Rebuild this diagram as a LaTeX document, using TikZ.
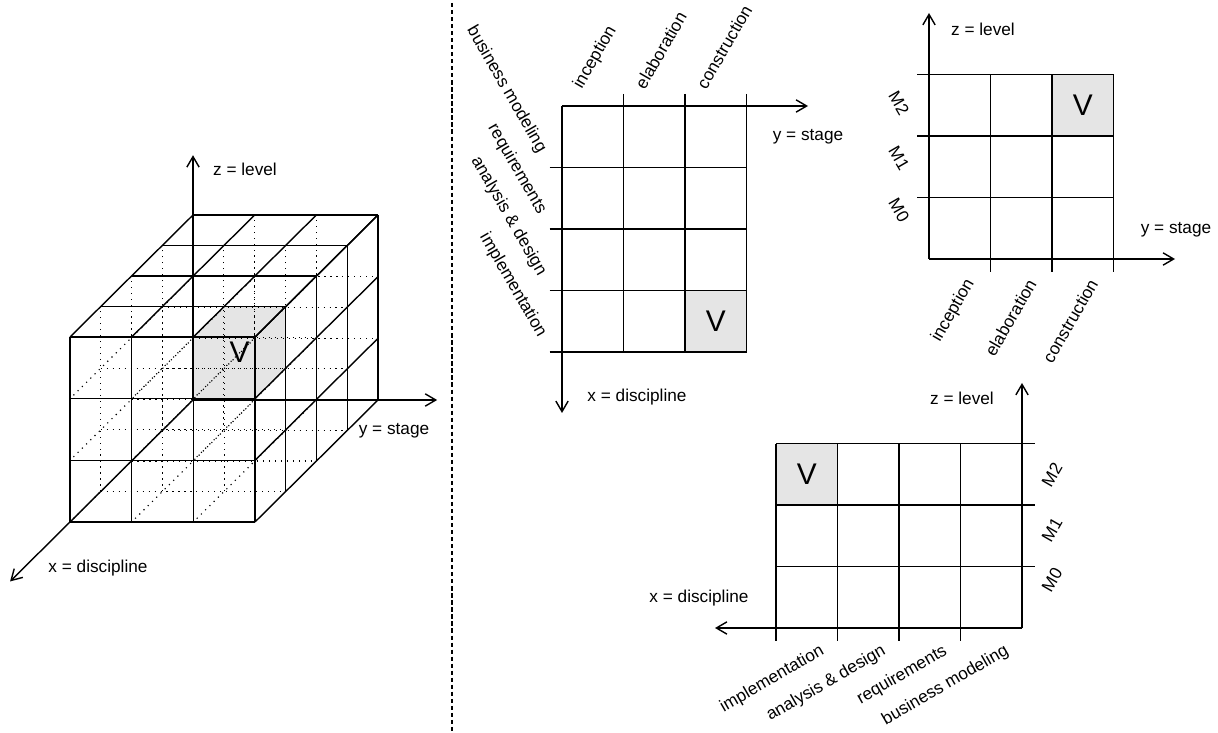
\documentclass[tikz,border=0pt]{standalone}
\usepackage{fontspec}
\setmainfont{Liberation Sans}
\usetikzlibrary{arrows.meta}

\begin{document}
\begin{tikzpicture}[x=0.02cm,y=-0.02cm,>={Straight Barb[length=6pt,width=7pt]},
  every node/.style={font=\fontsize{9.8}{11}\selectfont,inner sep=1pt},
  grid/.style={line width=0.8pt},
  hidden/.style={line width=0.65pt,dash pattern=on 0.65pt off 2.75pt},
  axis/.style={->,line width=0.8pt},
  cell/.style={fill=gray!20},
  vlabel/.style={font=\fontsize{17}{19}\selectfont}]
\useasboundingbox (0,0) rectangle (1218,733);
\draw[line width=0.6pt,dash pattern=on 2.4pt off 1.6pt] (452,3) -- (452,731);

% cube, origin at the back lower left corner
\begin{scope}[shift={(193,400)}]
\begin{scope}[x={(-0.615cm,-0.61cm)},y={(1.2334cm,0cm)},z={(0cm,1.2334cm)}]
\fill[cell] (4,2,2) -- (4,3,2) -- (3,3,2) -- (3,3,3) -- (3,2,3) -- (4,2,3) -- cycle;
% hidden lattice
\foreach \a in {0,1,2} \foreach \b in {0,1,2} \draw[hidden] (0,\a,\b) -- (4,\a,\b);
\foreach \a in {0,...,3} \foreach \b in {0,1,2} {\draw[hidden] (\a,0,\b) -- (\a,3,\b); \draw[hidden] (\a,\b,0) -- (\a,\b,3);}
% front, top and right faces
\foreach \a in {0,...,3} {\draw[grid] (4,\a,0) -- (4,\a,3); \draw[grid] (4,0,\a) -- (4,3,\a);
  \draw[grid] (0,\a,3) -- (4,\a,3); \draw[grid] (0,3,\a) -- (4,3,\a);}
\foreach \a in {0,...,4} {\draw[grid] (\a,0,3) -- (\a,3,3); \draw[grid] (\a,3,0) -- (\a,3,3);}
\draw[axis] (0,0,0) -- (5.95,0,0);
\draw[axis] (0,0,0) -- (0,3.96,0);
\draw[axis] (0,0,0) -- (0,0,3.97);
\node[vlabel] (cubeV) at (3.5,2.5,2.5) {V};
\end{scope}
\end{scope}
\node (cubeZ) at (245,169) {z = level};
\node (cubeY) at (394,431) {y = stage};
\node (cubeX) at (98,568) {x = discipline};

% x-y plane
\begin{scope}[shift={(562,106)}]
\fill[cell] (123,184.5) rectangle (184.5,246);
\foreach \c in {1,2,3} \draw[grid] (61.5*\c,-12) -- (61.5*\c,246);
\foreach \r in {1,...,4} \draw[grid] (-12.5,61.5*\r) -- (184.5,61.5*\r);
\draw[axis] (0,0) -- (246,0);
\draw[axis] (0,0) -- (0,307);
\node[vlabel] (xyV) at (153.75,215.25) {V};
\node (xyY) at (246,31) {y = stage};
\node (xyX) at (75,291) {x = discipline};
\foreach \t [count=\c from 0] in {inception,elaboration,construction}
  \node[rotate=60,anchor=west] (xyS\c) at (61.5*\c+15,-17) {\t};
\foreach \t [count=\r from 0] in {business modeling,requirements,analysis \& design,implementation}
  \node[rotate=-60,anchor=east] (xyD\r) at (-19,61.5*\r+47) {\t};
\end{scope}

% y-z plane
\begin{scope}[shift={(929,259)}]
\fill[cell] (123,-184.5) rectangle (184.5,-123);
\foreach \r in {1,2,3} \draw[grid] (-12,-61.5*\r) -- (184.5,-61.5*\r);
\foreach \c in {1,2,3} \draw[grid] (61.5*\c,-184.5) -- (61.5*\c,13);
\draw[axis] (0,0) -- (0,-246);
\draw[axis] (0,0) -- (246,0);
\node[vlabel] (yzV) at (153.75,-153.75) {V};
\node (yzZ) at (54,-230) {z = level};
\node (yzY) at (247,-29) {y = stage};
\foreach \t/\p [count=\r] in {M2/-156,M1/-101,M0/-49}
  \node[rotate=-60] (yzM\r) at (-30,\p) {\t};
\foreach \t [count=\c] in {inception,elaboration,construction}
  \node[rotate=60,anchor=east] (yzS\c) at (61.5*\c-19,20) {\t};
\end{scope}

% x-z plane
\begin{scope}[shift={(1022,628)}]
\fill[cell] (-246,-184.5) rectangle (-184.5,-123);
\foreach \r in {1,2,3} \draw[grid] (-246,-61.5*\r) -- (13,-61.5*\r);
\foreach \c in {1,...,4} \draw[grid] (-61.5*\c,-184.5) -- (-61.5*\c,13);
\draw[axis] (0,0) -- (0,-245);
\draw[axis] (0,0) -- (-307,0);
\node[vlabel] (xzV) at (-215.25,-153.75) {V};
\node (xzZ) at (-60,-230) {z = level};
\node (xzX) at (-323,-30) {x = discipline};
\foreach \t/\p [count=\r] in {M2/-153,M1/-98,M0/-48}
  \node[rotate=60] (xzM\r) at (30,\p) {\t};
\foreach \t [count=\c from 0] in {implementation,analysis \& design,requirements,business modeling}
  \node[rotate=30,anchor=east] (xzD\c) at (-61.5*3+61.5*\c-13,21) {\t};
\end{scope}
\end{tikzpicture}
\end{document}
